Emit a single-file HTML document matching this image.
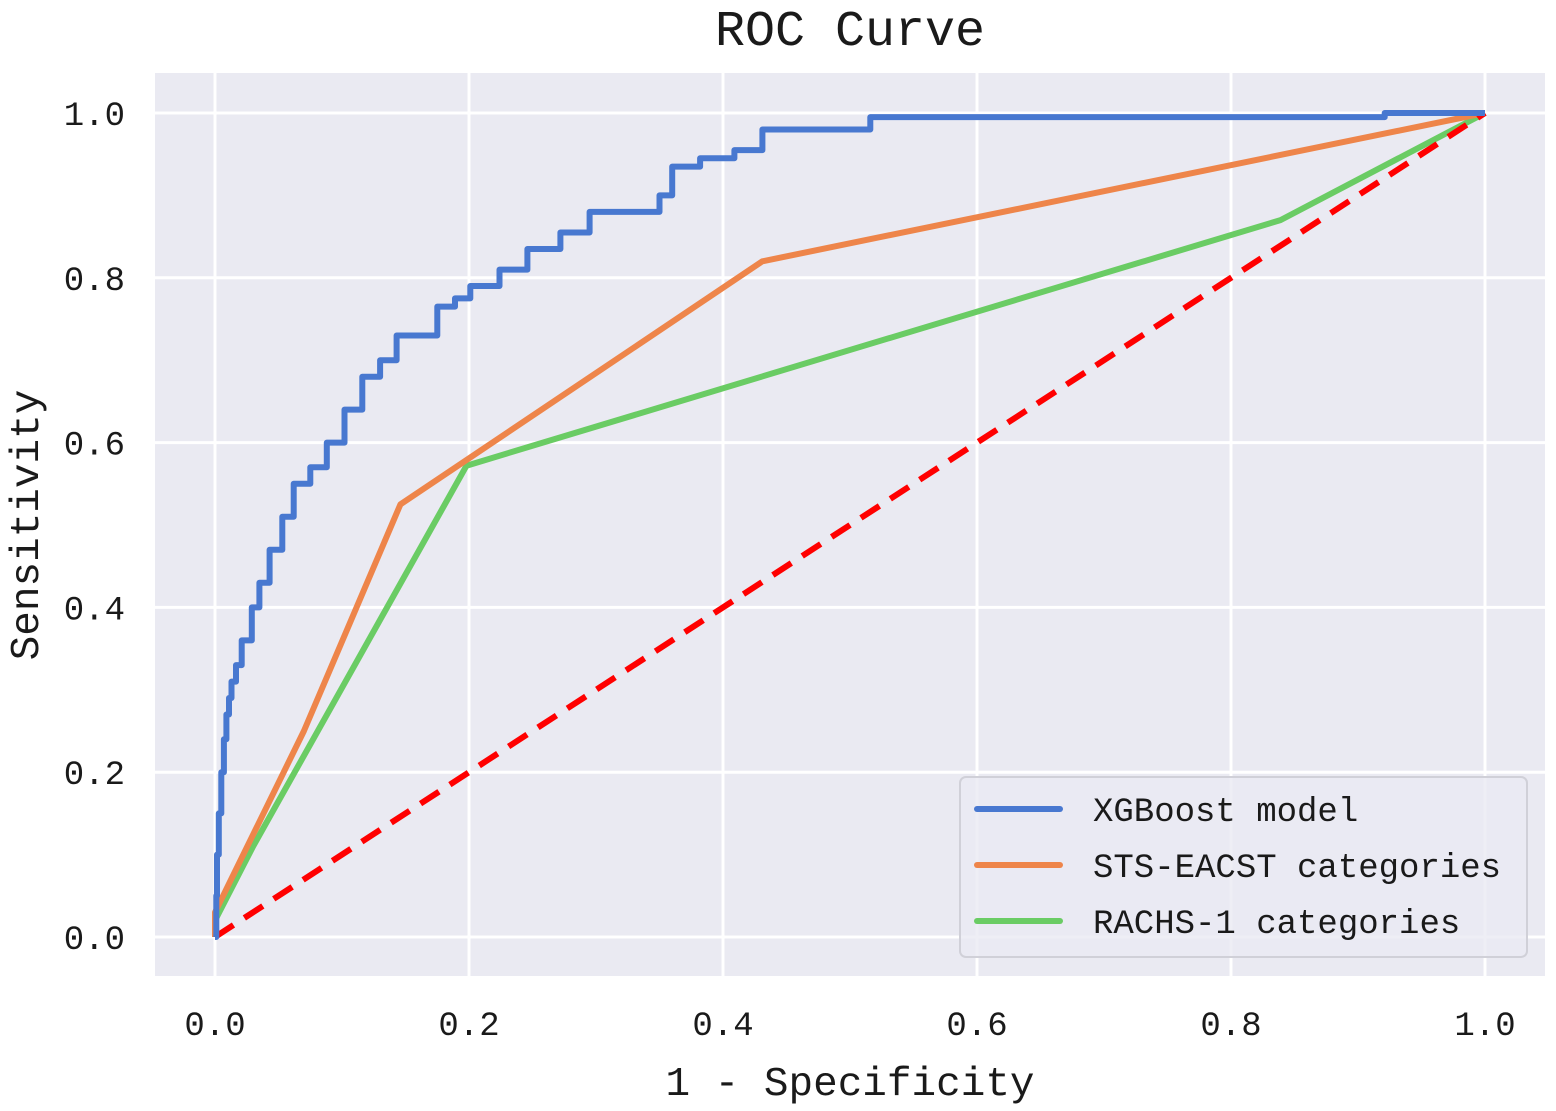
<!DOCTYPE html>
<html><head><meta charset="utf-8"><style>
html,body{margin:0;padding:0;background:#fff;}
svg text{font-family:"Liberation Mono","Noto Sans CJK SC",monospace;fill:#1a1a1a;}
</style></head><body>
<svg id="chart" width="1556" height="1106" xmlns="http://www.w3.org/2000/svg">
<rect x="155" y="73" width="1390" height="903" fill="#eaeaf2"/>
<g id="grid"></g>
<g id="series"></g>
<g id="ticks"></g>
<text x="850" y="45" font-size="50" text-anchor="middle">ROC Curve</text>
<text x="850" y="1095" font-size="41" text-anchor="middle">1 - Specificity</text>
<text transform="translate(38,525) rotate(-90)" font-size="41" text-anchor="middle">Sensitivity</text>
<g>
<rect x="960" y="777" width="567" height="180" rx="6" fill="#eaeaf2" fill-opacity="0.8" stroke="#d0d0d8" stroke-width="2"/>
<line x1="977" y1="809" x2="1060" y2="809" stroke="#4878d0" stroke-width="6" stroke-linecap="round"/>
<text x="1093" y="821" font-size="34">XGBoost model</text>
<line x1="977" y1="865" x2="1060" y2="865" stroke="#ee854a" stroke-width="6" stroke-linecap="round"/>
<text x="1093" y="877" font-size="34">STS-EACST categories</text>
<line x1="977" y1="921" x2="1060" y2="921" stroke="#6acc64" stroke-width="6" stroke-linecap="round"/>
<text x="1093" y="933" font-size="34">RACHS-1 categories</text>
</g>
</svg>
<script>
const xTicks = [0.0, 0.2, 0.4, 0.6, 0.8, 1.0];
const yTicks = [0.0, 0.2, 0.4, 0.6, 0.8, 1.0];
const xgbFpr = [0,0.001,0.0016,0.003,0.005,0.007,0.009,0.011,0.013,0.0165,0.021,0.029,0.035,0.043,0.053,0.062,0.075,0.088,0.102,0.116,0.13,0.143,0.165,0.175,0.189,0.201,0.224,0.246,0.272,0.295,0.335,0.35,0.36,0.38,0.382,0.409,0.431,0.506,0.516,0.917,0.921,1];
const xgbTpr = [0,0.05,0.1,0.15,0.2,0.24,0.27,0.29,0.31,0.33,0.36,0.40,0.43,0.47,0.51,0.55,0.57,0.60,0.64,0.68,0.70,0.73,0.73,0.765,0.775,0.79,0.81,0.835,0.855,0.88,0.88,0.9,0.935,0.935,0.945,0.955,0.98,0.98,0.995,0.995,1,1];
const stsFpr = [0,0,0.07,0.146,0.431,1];
const stsTpr = [0,0.03,0.25,0.525,0.82,1];
const rachsFpr = [0,0,0.03,0.198,0.839,1];
const rachsTpr = [0,0.02,0.11,0.572,0.87,1];
const refFpr = [0,1];
const refTpr = [0,1];

const X = v => 215 + v*1270;
const Y = v => 937 - v*824;
const NS = "http://www.w3.org/2000/svg";
function mk(tag, attrs, parent){const e=document.createElementNS(NS,tag);for(const k in attrs)e.setAttribute(k,attrs[k]);parent.appendChild(e);return e;}
const grid=document.getElementById('grid'), ticks=document.getElementById('ticks'), series=document.getElementById('series');
xTicks.forEach(t=>{
  const l=mk('line',{x1:X(t),x2:X(t),y1:73,y2:976,stroke:'#fff','stroke-width':3},grid);
  
  
  const tx=mk('text',{x:X(t),y:1035,'font-size':34,'text-anchor':'middle'},ticks);
  tx.textContent=t.toFixed(1);
  
  
});
yTicks.forEach(t=>{
  const l=mk('line',{x1:155,x2:1545,y1:Y(t),y2:Y(t),stroke:'#fff','stroke-width':3},grid);
  
  
  const tx=mk('text',{x:125,y:Y(t)+12,'font-size':34,'text-anchor':'end'},ticks);
  tx.textContent=t.toFixed(1);
  
  
});
function poly(xs,ys){return xs.map((x,i)=>(i?'L':'M')+X(x).toFixed(1)+' '+Y(ys[i]).toFixed(1)).join(' ');}
function steps(xs,ys){let d='M'+X(xs[0])+' '+Y(ys[0]);for(let i=1;i<xs.length;i++){d+=' H'+X(xs[i]).toFixed(1)+' V'+Y(ys[i]).toFixed(1);}return d;}
const pr=mk('path',{d:poly(rachsFpr,rachsTpr),fill:'none',stroke:'#6acc64','stroke-width':6,'stroke-linejoin':'round'},series);


const ps=mk('path',{d:poly(stsFpr,stsTpr),fill:'none',stroke:'#ee854a','stroke-width':6,'stroke-linejoin':'round'},series);


const pd=mk('path',{d:poly(refFpr,refTpr),fill:'none',stroke:'#ff0000','stroke-width':6,'stroke-dasharray':'22 13'},series);


const px=mk('path',{d:steps(xgbFpr,xgbTpr),fill:'none',stroke:'#4878d0','stroke-width':6,'stroke-linejoin':'round'},series);


</script>
</body></html>
